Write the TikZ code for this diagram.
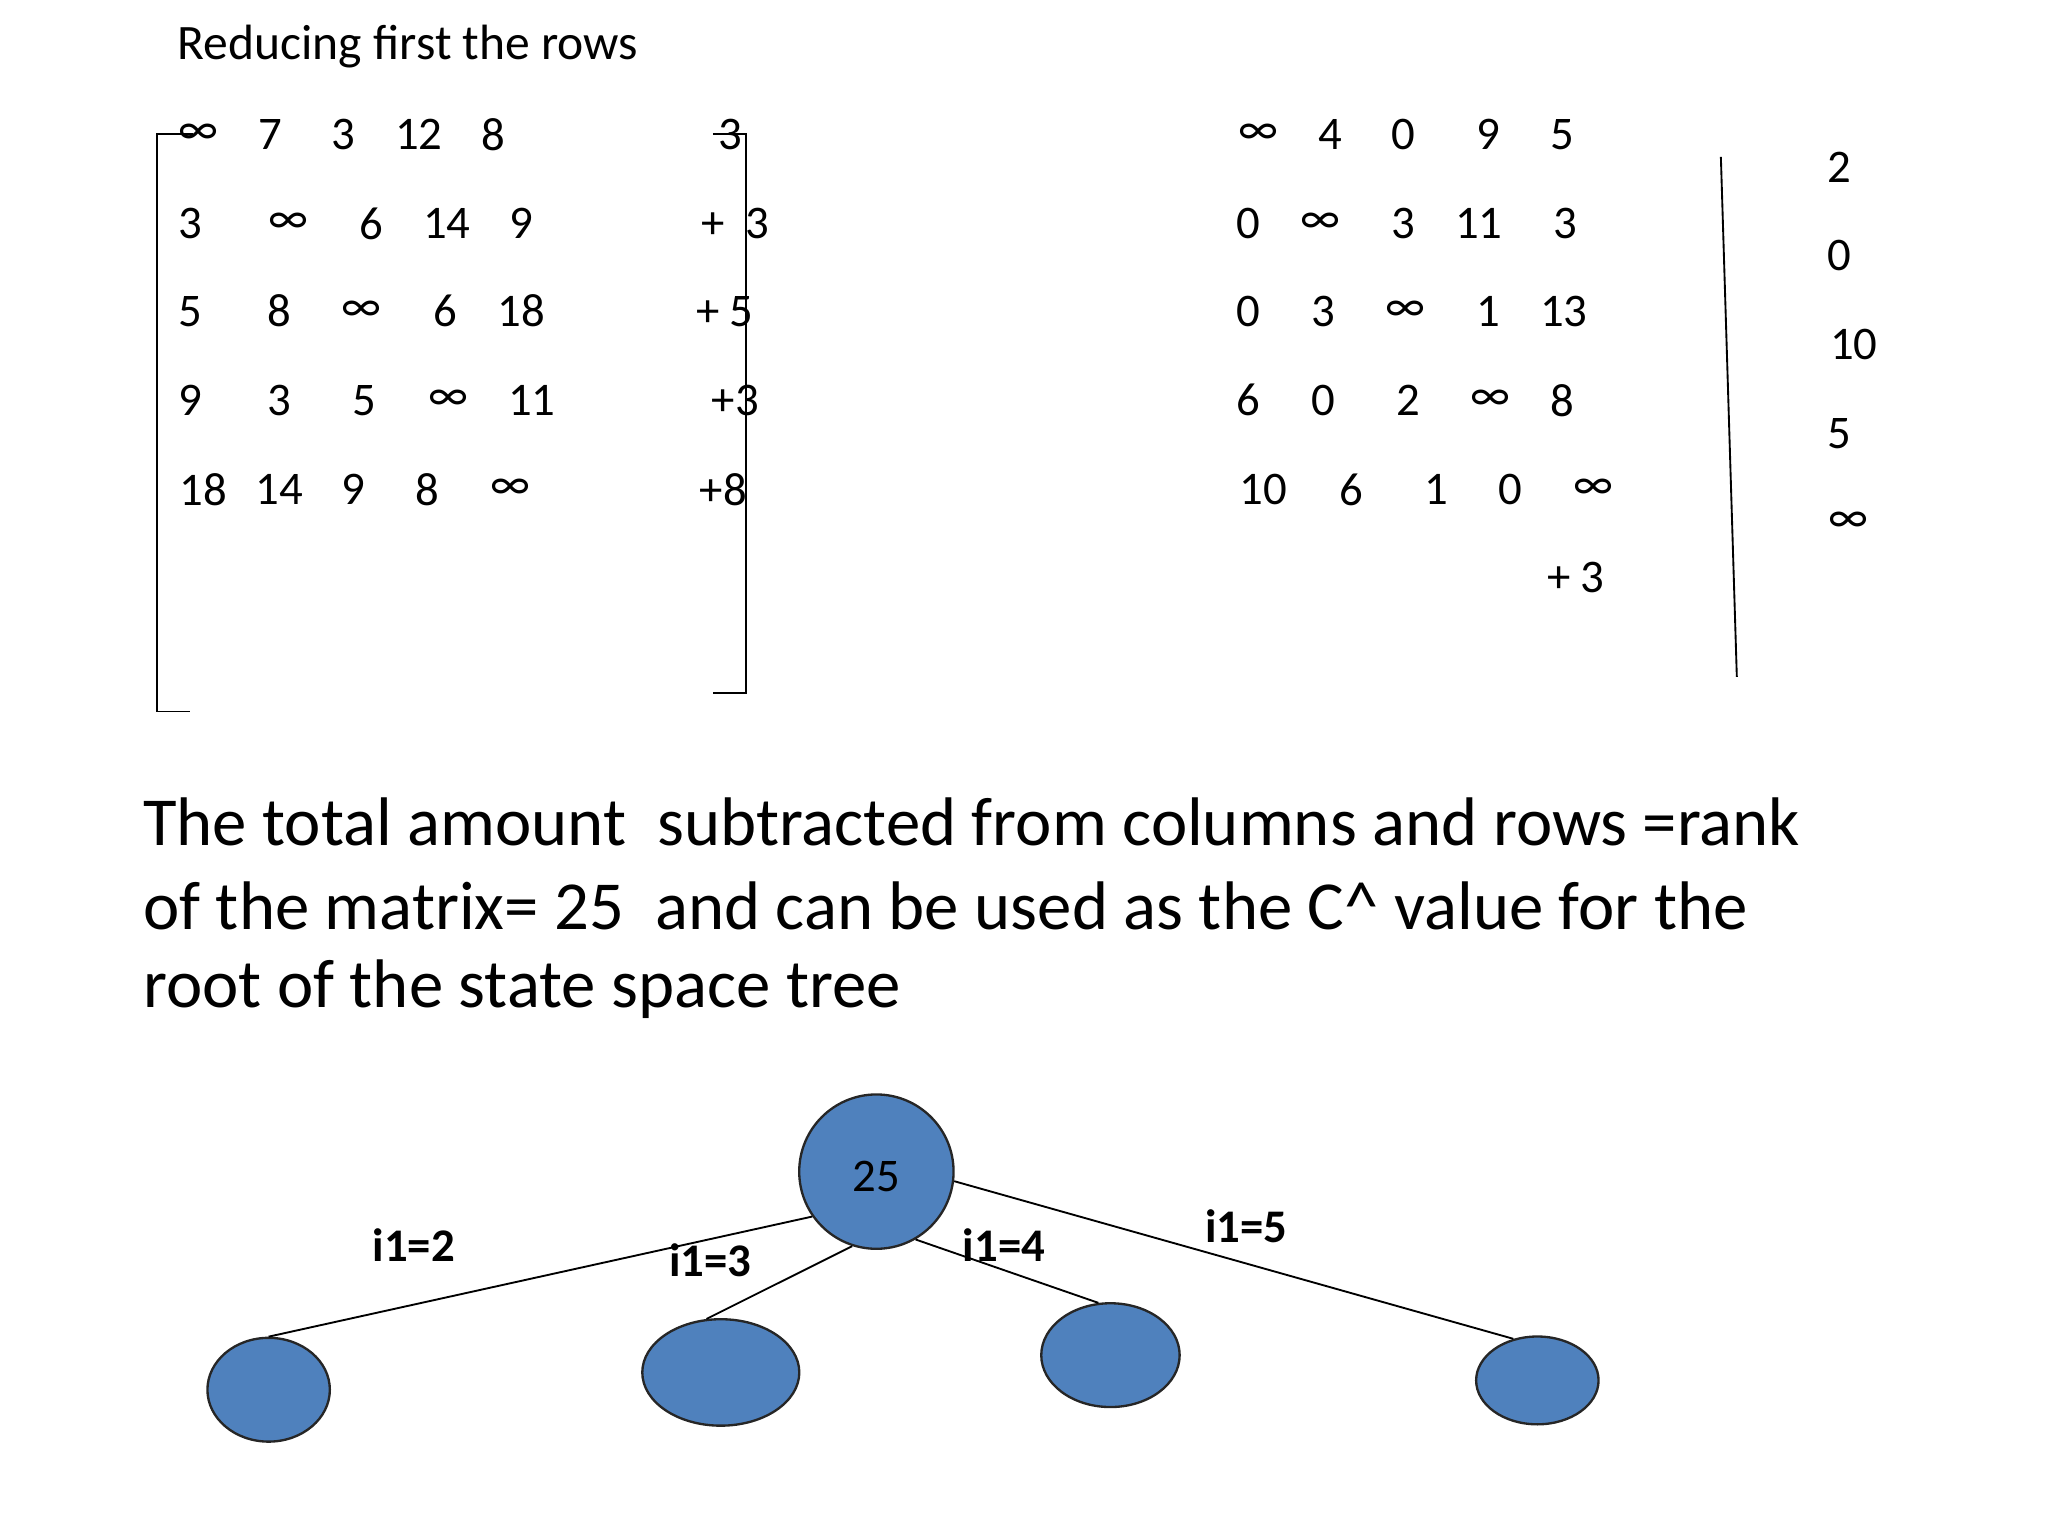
\documentclass[tikz,border=0pt]{standalone}
\usepackage{fontspec}
\usetikzlibrary{shapes.geometric}
\setmainfont{Carlito}
\definecolor{nodeblue}{RGB}{79,129,189}
\begin{document}
\begin{tikzpicture}[x=0.01cm,y=-0.01cm,
  num/.style={inner sep=0pt,font=\fontsize{10}{12}\selectfont},
  big/.style={inner sep=0pt,anchor=west,font=\fontsize{14.7}{17}\selectfont},
  lab/.style={inner sep=0pt,font=\fontsize{10}{12}\selectfont\bfseries},
  blob/.style={ellipse,draw=black!85,fill=nodeblue,line width=0.5pt,inner sep=0pt}]
\useasboundingbox (0,0) rectangle (1540,1155);
\node[num,anchor=west,font=\fontsize{10.6}{12}\selectfont] (title) at (133,35) {Reducing first the rows};
% left matrix
\foreach \x/\y/\t [count=\i] in {149/101/∞,203/101/7,258/101/3,315/101/12,371/101/8,549/101/3,
 143/168/3,217/168/∞,279/168/6,336/168/14,392/168/9,553/168/{+\ \ 3},
 143/234/5,210/234/8,272/234/∞,335/234/6,392/234/18,545/234/+ 5,
 143/301/9,210/301/3,274/301/5,337/301/∞,400/301/11,553/301/+3,
 153/368/18,210/368/14,266/368/9,321/368/8,384/368/∞,544/368/+8}
 \node[num] (l\i) at (\x,\y) {\t};
\draw (145,101) -- (118,101) -- (118,535) -- (143,535);
\draw (536,101) -- (561,101) -- (561,521) -- (536,521);
% right matrix
\foreach \x/\y/\t [count=\i] in {946/101/∞,1000/101/4,1055/101/0,1119/101/9,1175/101/5,
 939/168/0,993/168/∞,1055/168/3,1112/168/11,1177/168/3,
 939/234/0,995/234/3,1057/234/∞,1119/234/1,1176/234/13,
 939/301/6,995/301/0,1059/301/2,1121/301/∞,1175/301/8,
 950/368/10,1016/368/6,1080/368/1,1136/368/0,1198/368/∞,
 1185/434/+ 3,
 1383/126/2,1383/192/0,1394/259/10,1383/326/5,1390/393/∞}
 \node[num] (r\i) at (\x,\y) {\t};
\coordinate (va) at (1294,118); \coordinate (vb) at (1306,509);
\draw (va) -- (vb);
% paragraph
\node[big] (p1) at (107,618) {The total amount\ \ subtracted from columns and rows =rank};
\node[big] (p2) at (107,681) {of the matrix= 25\ \ and can be used as the C\^{} value for the};
\node[big] (p3) at (107,744) {root of the state space tree};
% tree
\node[blob,circle,minimum size=1.16cm] (root) at (659,881) {};
\node[num] at (659,885) {25};
\node[blob,minimum width=0.92cm,minimum height=0.78cm] (c1) at (202,1045) {};
\node[blob,minimum width=1.18cm,minimum height=0.80cm] (c2) at (542,1032) {};
\node[blob,minimum width=1.04cm,minimum height=0.78cm] (c3) at (835,1019) {};
\node[blob,minimum width=0.92cm,minimum height=0.66cm] (c4) at (1156,1038) {};
\draw (root.215) -- (c1.north);
\draw (root.252) -- (c2.105);
\draw (root.300) -- (c3.103);
\draw (root.353) -- (c4.120);
\node[lab] at (311,936) {i1=2};
\node[lab] at (534,948) {i1=3};
\node[lab] at (755,936) {i1=4};
\node[lab] at (937,922) {i1=5};
\end{tikzpicture}
\end{document}
